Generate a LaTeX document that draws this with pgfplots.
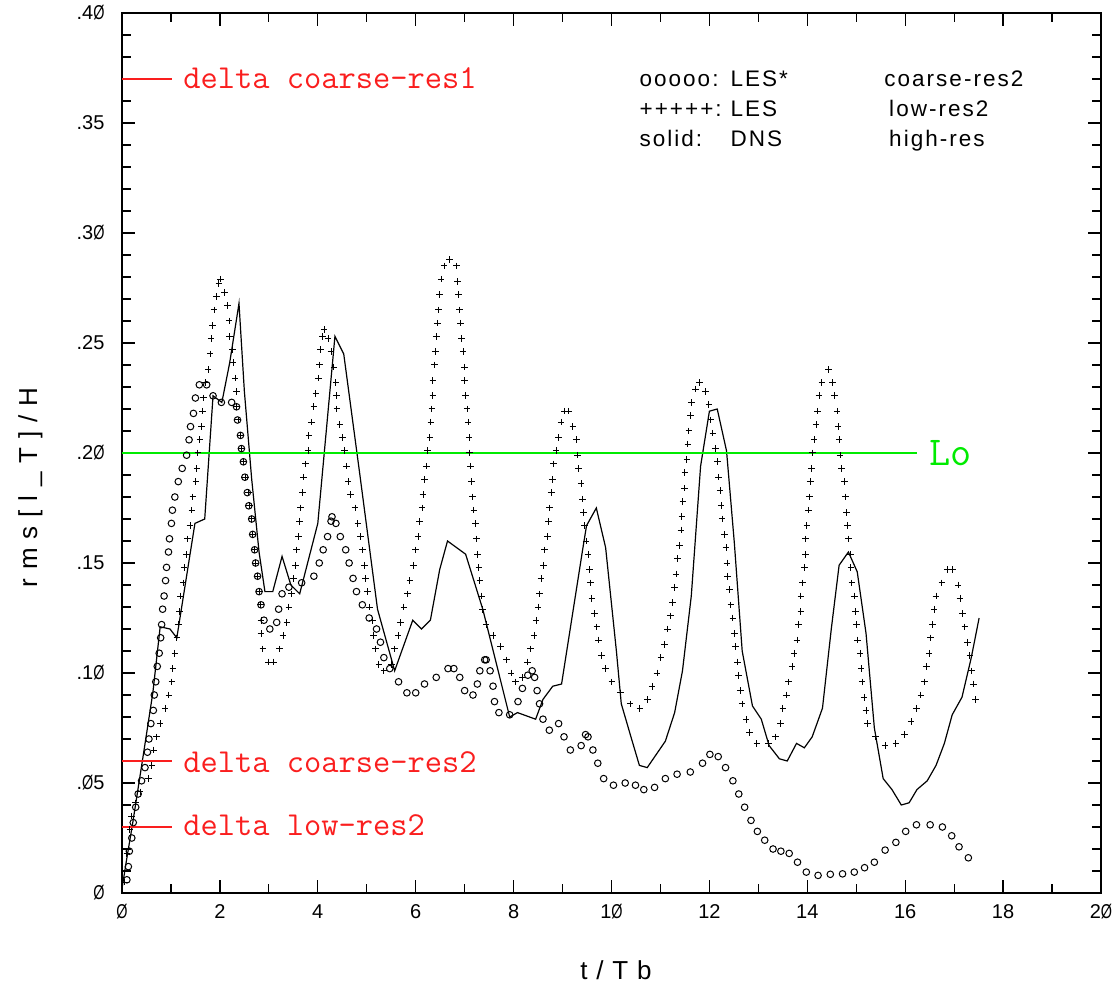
\documentclass[border=0pt]{standalone}
\usepackage{fontspec}
\setmainfont{Liberation Sans}
\usepackage{pgfplots}
\pgfplotsset{compat=1.18}
\newfontfamily\legfont[LetterSpace=9]{Liberation Sans}
\newfontfamily\lblfont[LetterSpace=34]{Liberation Sans}
\newcommand\zs{\scalebox{0.72}[1]{Ø}}
\definecolor{lgreen}{RGB}{0,235,0}
\definecolor{lred}{RGB}{250,30,30}
\begin{document}
\begin{tikzpicture}
\useasboundingbox (-122pt,-96pt) rectangle (998pt,893pt);
\begin{axis}[
  at={(0pt,0pt)}, anchor=south west,
  scale only axis, width=979pt, height=880pt,
  xmin=0, xmax=20, ymin=0, ymax=0.4,
  axis line style={line width=1.8pt},
  xtick={0,2,4,6,8,10,12,14,16,18,20},
  xticklabels={\zs,2,4,6,8,1\zs,12,14,16,18,2\zs},
  ytick={0,0.05,0.1,0.15,0.2,0.25,0.3,0.35,0.4},
  yticklabels={\zs,.\zs5,.1\zs,.15,.2\zs,.25,.3\zs,.35,.4\zs},
  minor x tick num=1, minor y tick num=4,
  tick align=inside,
  major tick length=13pt, minor tick length=9pt,
  every tick/.style={black, line width=1.3pt},
  tick label style={font=\fontsize{20}{22}\selectfont},
  xticklabel style={yshift=-8pt},
  yticklabel style={xshift=-14pt},
  clip=false,
]
% DNS high-res (solid)
\addplot[black, line width=1.2pt, mark=none] table {
x y
0 0.002
0.1 0.016
0.22 0.032
0.43 0.062
0.63 0.091
0.78 0.121
0.98 0.120
1.12 0.116
1.49 0.168
1.69 0.170
1.86 0.226
2.04 0.223
2.2 0.241
2.39 0.268
2.5 0.228
2.65 0.188
2.8 0.155
2.92 0.137
3.08 0.137
3.27 0.153
3.45 0.140
3.63 0.136
4.0 0.168
4.35 0.253
4.53 0.245
4.86 0.190
5.22 0.129
5.57 0.101
5.94 0.124
6.12 0.120
6.3 0.124
6.49 0.147
6.65 0.160
7.02 0.154
7.37 0.129
7.92 0.080
8.08 0.082
8.45 0.079
8.6 0.088
8.8 0.094
8.98 0.095
9.41 0.156
9.49 0.167
9.69 0.175
9.88 0.157
10.1 0.110
10.2 0.086
10.41 0.070
10.57 0.058
10.73 0.057
11.1 0.069
11.29 0.082
11.45 0.101
11.63 0.135
11.82 0.194
12.0 0.219
12.16 0.220
12.35 0.201
12.51 0.159
12.67 0.110
12.88 0.085
13.06 0.079
13.22 0.067
13.43 0.061
13.59 0.060
13.78 0.068
13.94 0.066
14.1 0.071
14.31 0.084
14.49 0.120
14.65 0.149
14.84 0.155
15.02 0.146
15.2 0.118
15.37 0.075
15.55 0.052
15.73 0.047
15.92 0.040
16.08 0.041
16.24 0.047
16.45 0.051
16.63 0.058
16.8 0.068
16.96 0.081
17.16 0.089
17.35 0.107
17.51 0.125
};
% LES low-res2 (+++++)
\addplot[black, only marks, mark=+, mark size=3.3pt, mark options={line width=1pt}] table {
x y
0.06 0.005
0.10 0.018
0.16 0.029
0.20 0.035
0.27 0.041
0.37 0.046
0.54 0.052
0.61 0.058
0.65 0.065
0.71 0.071
0.78 0.077
0.88 0.084
0.96 0.090
1.02 0.096
1.04 0.102
1.08 0.109
1.12 0.116
1.15 0.122
1.18 0.128
1.20 0.135
1.25 0.141
1.27 0.148
1.32 0.154
1.34 0.161
1.39 0.167
1.43 0.174
1.45 0.180
1.51 0.187
1.53 0.193
1.55 0.200
1.59 0.206
1.63 0.212
1.65 0.219
1.67 0.225
1.71 0.232
1.76 0.238
1.80 0.245
1.82 0.252
1.85 0.258
1.88 0.265
1.93 0.271
1.98 0.277
2.01 0.279
2.09 0.273
2.16 0.267
2.19 0.260
2.20 0.253
2.26 0.247
2.27 0.241
2.31 0.234
2.34 0.228
2.34 0.221
2.37 0.215
2.42 0.208
2.44 0.202
2.48 0.196
2.52 0.189
2.58 0.182
2.60 0.176
2.65 0.170
2.67 0.163
2.70 0.156
2.73 0.150
2.76 0.144
2.80 0.137
2.83 0.131
2.84 0.124
2.84 0.118
2.88 0.111
2.99 0.105
3.10 0.105
3.22 0.111
3.29 0.117
3.37 0.123
3.41 0.130
3.46 0.136
3.50 0.143
3.55 0.149
3.57 0.156
3.60 0.162
3.63 0.169
3.65 0.175
3.69 0.182
3.71 0.189
3.75 0.195
3.80 0.201
3.82 0.208
3.87 0.214
3.92 0.221
3.96 0.227
4.01 0.234
4.04 0.240
4.06 0.247
4.10 0.253
4.13 0.256
4.21 0.252
4.27 0.246
4.33 0.239
4.37 0.232
4.38 0.226
4.39 0.220
4.45 0.213
4.50 0.207
4.54 0.201
4.59 0.194
4.62 0.187
4.67 0.181
4.76 0.175
4.82 0.168
4.87 0.162
4.91 0.156
4.95 0.149
4.98 0.143
5.01 0.137
5.06 0.130
5.12 0.124
5.14 0.117
5.18 0.111
5.25 0.104
5.35 0.101
5.50 0.104
5.57 0.111
5.64 0.117
5.69 0.123
5.76 0.130
5.83 0.136
5.88 0.142
5.95 0.149
6.00 0.156
6.05 0.162
6.08 0.169
6.13 0.175
6.15 0.181
6.18 0.188
6.22 0.194
6.24 0.201
6.29 0.207
6.31 0.214
6.33 0.220
6.35 0.226
6.35 0.233
6.38 0.240
6.40 0.246
6.42 0.253
6.44 0.259
6.47 0.265
6.49 0.272
6.52 0.279
6.58 0.285
6.69 0.288
6.83 0.285
6.85 0.278
6.88 0.272
6.90 0.265
6.92 0.259
6.94 0.252
6.97 0.246
7.00 0.239
7.00 0.233
7.02 0.226
7.05 0.220
7.07 0.214
7.09 0.207
7.10 0.200
7.12 0.194
7.14 0.187
7.16 0.180
7.19 0.174
7.22 0.168
7.24 0.161
7.26 0.154
7.29 0.148
7.31 0.142
7.34 0.135
7.37 0.129
7.44 0.122
7.58 0.117
7.73 0.112
7.85 0.106
7.95 0.100
8.04 0.096
8.18 0.098
8.28 0.105
8.35 0.111
8.42 0.117
8.46 0.124
8.50 0.130
8.53 0.136
8.56 0.143
8.61 0.149
8.63 0.156
8.69 0.162
8.71 0.169
8.73 0.175
8.77 0.182
8.79 0.188
8.82 0.195
8.87 0.201
8.92 0.207
8.97 0.214
9.04 0.219
9.12 0.219
9.21 0.212
9.28 0.206
9.31 0.199
9.33 0.193
9.38 0.186
9.41 0.179
9.43 0.173
9.45 0.167
9.48 0.160
9.52 0.154
9.55 0.147
9.57 0.141
9.60 0.134
9.65 0.127
9.70 0.121
9.74 0.115
9.79 0.108
9.88 0.102
10.01 0.096
10.18 0.091
10.38 0.086
10.58 0.084
10.74 0.088
10.83 0.094
10.93 0.100
11.01 0.107
11.08 0.113
11.15 0.120
11.20 0.126
11.25 0.132
11.29 0.139
11.32 0.145
11.35 0.152
11.39 0.158
11.42 0.165
11.44 0.171
11.46 0.178
11.49 0.184
11.50 0.191
11.54 0.197
11.56 0.204
11.58 0.210
11.61 0.217
11.64 0.223
11.72 0.229
11.80 0.232
11.92 0.228
11.99 0.222
12.03 0.215
12.07 0.209
12.12 0.202
12.17 0.196
12.19 0.189
12.22 0.183
12.24 0.176
12.26 0.170
12.31 0.163
12.34 0.157
12.36 0.150
12.37 0.144
12.41 0.138
12.44 0.131
12.48 0.125
12.51 0.118
12.53 0.112
12.57 0.105
12.60 0.099
12.63 0.092
12.67 0.086
12.75 0.079
12.82 0.073
12.97 0.068
13.21 0.068
13.35 0.071
13.45 0.077
13.50 0.084
13.57 0.090
13.62 0.096
13.69 0.103
13.73 0.109
13.79 0.115
13.82 0.122
13.87 0.128
13.87 0.135
13.90 0.141
13.94 0.148
13.96 0.154
13.96 0.161
13.99 0.167
14.03 0.174
14.04 0.180
14.06 0.187
14.09 0.193
14.11 0.200
14.14 0.206
14.18 0.213
14.21 0.219
14.24 0.226
14.30 0.232
14.43 0.238
14.52 0.232
14.56 0.226
14.61 0.219
14.63 0.212
14.65 0.206
14.67 0.199
14.70 0.193
14.76 0.187
14.78 0.180
14.80 0.173
14.82 0.167
14.84 0.161
14.88 0.154
14.89 0.148
14.91 0.141
14.96 0.135
14.98 0.128
15.01 0.122
15.03 0.115
15.08 0.109
15.10 0.102
15.12 0.096
15.16 0.089
15.20 0.083
15.23 0.077
15.39 0.071
15.59 0.067
15.81 0.068
15.99 0.072
16.12 0.078
16.23 0.084
16.32 0.090
16.39 0.096
16.43 0.103
16.49 0.109
16.52 0.116
16.56 0.122
16.59 0.129
16.63 0.135
16.75 0.141
16.86 0.147
16.97 0.147
17.08 0.140
17.12 0.134
17.17 0.127
17.22 0.121
17.27 0.114
17.32 0.108
17.36 0.101
17.39 0.095
17.44 0.088
};
% LES* coarse-res2 (ooooo)
\addplot[black, only marks, mark=o, mark size=3.3pt, mark options={line width=1pt}] table {
x y
0.10 0.006
0.13 0.012
0.15 0.019
0.20 0.025
0.23 0.032
0.28 0.039
0.33 0.045
0.40 0.051
0.47 0.057
0.52 0.064
0.55 0.070
0.59 0.077
0.64 0.083
0.66 0.090
0.69 0.096
0.72 0.103
0.76 0.109
0.79 0.116
0.81 0.122
0.83 0.129
0.86 0.135
0.89 0.142
0.91 0.148
0.95 0.155
0.97 0.161
1.01 0.168
1.03 0.174
1.08 0.180
1.15 0.187
1.23 0.193
1.32 0.199
1.37 0.206
1.40 0.212
1.46 0.218
1.50 0.225
1.58 0.231
1.73 0.231
1.86 0.226
2.03 0.223
2.24 0.223
2.34 0.221
2.36 0.215
2.42 0.208
2.44 0.202
2.48 0.196
2.51 0.189
2.56 0.182
2.59 0.176
2.65 0.170
2.67 0.163
2.71 0.156
2.73 0.150
2.77 0.144
2.80 0.137
2.84 0.131
2.90 0.124
3.02 0.120
3.16 0.123
3.20 0.129
3.27 0.136
3.41 0.139
3.67 0.141
3.92 0.144
4.03 0.150
4.11 0.156
4.20 0.162
4.27 0.169
4.29 0.171
4.37 0.168
4.46 0.162
4.57 0.156
4.64 0.150
4.72 0.143
4.79 0.137
4.91 0.131
5.05 0.125
5.20 0.120
5.28 0.114
5.35 0.107
5.47 0.102
5.65 0.096
5.82 0.091
6.00 0.091
6.18 0.095
6.42 0.098
6.66 0.102
6.78 0.102
6.90 0.098
7.00 0.092
7.17 0.090
7.26 0.095
7.31 0.101
7.41 0.106
7.44 0.106
7.52 0.101
7.58 0.094
7.61 0.087
7.70 0.082
7.92 0.081
8.09 0.087
8.18 0.093
8.29 0.099
8.38 0.101
8.43 0.098
8.48 0.092
8.53 0.086
8.60 0.079
8.73 0.074
8.92 0.077
9.03 0.071
9.16 0.065
9.38 0.067
9.47 0.072
9.52 0.071
9.62 0.065
9.72 0.059
9.84 0.052
10.04 0.049
10.28 0.050
10.49 0.049
10.66 0.047
10.88 0.048
11.10 0.052
11.34 0.054
11.61 0.055
11.86 0.059
12.01 0.063
12.18 0.062
12.33 0.057
12.48 0.051
12.60 0.045
12.72 0.039
12.85 0.033
12.98 0.028
13.13 0.024
13.30 0.020
13.46 0.019
13.63 0.018
13.80 0.014
13.98 0.0095
14.22 0.008
14.47 0.0085
14.72 0.0087
14.96 0.0095
15.17 0.0115
15.37 0.014
15.59 0.0195
15.81 0.023
16.01 0.028
16.23 0.031
16.51 0.031
16.76 0.030
16.95 0.026
17.10 0.021
17.29 0.016
};
% reference lines
\addplot[lgreen, line width=1.5pt, mark=none] coordinates {(0,0.2) (16.24,0.2)};
\addplot[lred, line width=1.5pt, mark=none] coordinates {(0,0.37) (1.02,0.37)};
\addplot[lred, line width=1.5pt, mark=none] coordinates {(0,0.06) (1.02,0.06)};
\addplot[lred, line width=1.5pt, mark=none] coordinates {(0,0.03) (1.02,0.03)};
% texts
\node[anchor=base west, inner sep=0pt, text=lred, font=\fontsize{33.5}{35}\selectfont\ttfamily] at (axis cs:1.25,0.3655) {delta coarse-res1};
\node[anchor=base west, inner sep=0pt, text=lred, font=\fontsize{33.5}{35}\selectfont\ttfamily] at (axis cs:1.25,0.055) {delta coarse-res2};
\node[anchor=base west, inner sep=0pt, text=lred, font=\fontsize{33.5}{35}\selectfont\ttfamily] at (axis cs:1.25,0.0262) {delta low-res2};
\node[anchor=base west, inner sep=0pt, text=lgreen, font=\fontsize{41}{43}\selectfont\ttfamily] at (axis cs:16.49,0.1945) {Lo};
\begin{scope}[every node/.style={anchor=base west, inner sep=0pt, font=\fontsize{22.5}{24}\selectfont\legfont}]
\node at (axis cs:10.57,0.3665) {ooooo:};
\node at (axis cs:12.43,0.3665) {LES*};
\node at (axis cs:15.57,0.3665) {coarse-res2};
\node at (axis cs:10.57,0.3529) {+++++:};
\node at (axis cs:12.43,0.3529) {LES};
\node at (axis cs:15.67,0.3529) {low-res2};
\node at (axis cs:10.57,0.3392) {solid:};
\node at (axis cs:12.43,0.3392) {DNS};
\node at (axis cs:15.67,0.3392) {high-res};
\end{scope}
\node[anchor=base, inner sep=0pt, font=\fontsize{26}{28}\selectfont\lblfont] at (axis cs:10.09,-0.0395) {t/Tb};
\node[anchor=base, rotate=90, inner sep=0pt, font=\fontsize{26}{28}\selectfont\lblfont] at (axis cs:-1.735,0.1843) {rms[l\_T]/H};
\end{axis}
\end{tikzpicture}
\end{document}
